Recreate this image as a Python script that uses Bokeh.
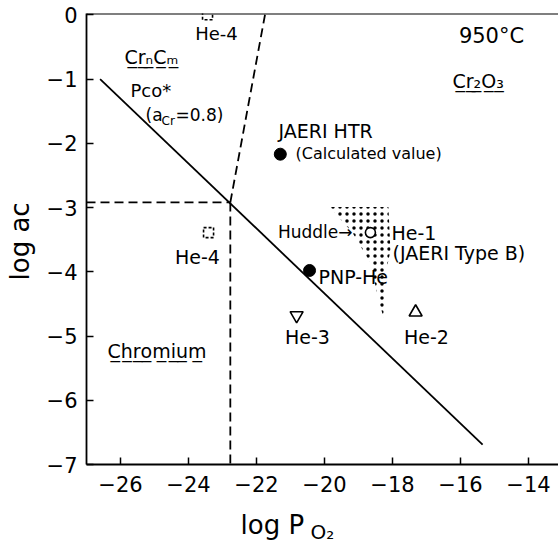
import math
from bokeh.plotting import figure
from bokeh.models import Label, Span, FixedTicker, Range1d
from bokeh.embed import file_html
from bokeh.resources import INLINE

# ---------------- data ----------------
x_ticks = [-26, -24, -22, -20, -18, -16, -14]
y_ticks = [0, -1, -2, -3, -4, -5, -6, -7]

# Cr / Cr2O3 / carbide equilibrium boundaries
oxide_line_x = [-26.6, -15.35]
oxide_line_y = [-1.0, -6.69]
carbide_h_x = [-27.0, -22.77]
carbide_h_y = [-2.92, -2.92]
chromium_v_x = [-22.77, -22.77]
chromium_v_y = [-2.92, -7.0]
carbide_oxide_x = [-22.77, -21.75]
carbide_oxide_y = [-2.92, 0.0]

# measured points
jaeri_htr_x = [-21.3]
jaeri_htr_y = [-2.17]
pnp_he_x = [-20.44]
pnp_he_y = [-3.98]
he1_x = [-18.65]
he1_y = [-3.39]
he2_x = [-17.32]
he2_y = [-4.63]
he3_x = [-20.82]
he3_y = [-4.68]
he4_x = [-23.44, -23.41]
he4_y = [0.0, -3.39]

# Huddle stippled region
huddle_x = [-19.85, -18.12, -18.06, -18.24, -18.26, -18.41, -18.65, -19.18]
huddle_y = [-2.99, -2.99, -3.67, -4.13, -4.72, -4.44, -3.86, -3.39]

# ---------------- layout constants ----------------
FONT = "DejaVu Sans"
W, H = 558, 548
X_START, PPX = -27.0, 34.0
Y_END, Y_START = 0.02, -7.0
FL, FT = 86, 13          # frame left/top in canvas pixels
FRAME_W, FRAME_H = W - FL, 452
PPY = FRAME_H / (Y_END - Y_START)


def at(px, py):
    return X_START + (px - FL) / PPX, Y_END - (py - FT) / PPY


p = figure(width=W, height=H, output_backend="svg", toolbar_location=None,
           x_range=Range1d(X_START, X_START + FRAME_W / PPX),
           y_range=Range1d(Y_START, Y_END),
           min_border_left=FL, min_border_top=FT,
           min_border_right=0, min_border_bottom=H - FT - FRAME_H)
p.outline_line_color = None
p.grid.visible = False
p.background_fill_color = "white"
p.border_fill_color = "white"

for ax in (p.xaxis, p.yaxis):
    ax.axis_line_width = 1.8
    ax.axis_line_color = "black"
    ax.major_tick_in = 7
    ax.major_tick_out = 0
    ax.major_tick_line_width = 1.5
    ax.minor_tick_line_color = None
    ax.major_label_text_font = FONT
    ax.major_label_text_font_size = "21px"
    ax.major_label_text_color = "black"

p.xaxis.ticker = FixedTicker(ticks=x_ticks)
p.yaxis.ticker = FixedTicker(ticks=y_ticks)
p.xaxis.major_label_overrides = {t: ("−%d" % -t if t < 0 else str(t)) for t in x_ticks}
p.yaxis.major_label_overrides = {t: ("−%d" % -t if t < 0 else str(t)) for t in y_ticks}
p.xaxis.major_label_standoff = 11
p.yaxis.major_label_standoff = 9

p.add_layout(Span(location=Y_END, dimension="width", line_color="black", line_width=1.8))

# boundaries
p.line(oxide_line_x, oxide_line_y, line_color="black", line_width=1.8)
for xs, ys in ((carbide_h_x, carbide_h_y), (chromium_v_x, chromium_v_y),
               (carbide_oxide_x, carbide_oxide_y)):
    p.line(xs, ys, line_color="black", line_width=1.8, line_dash="9 5")

# stippled region
p.patch(huddle_x, huddle_y, fill_color=None, line_color=None,
        hatch_pattern=".", hatch_color="black", hatch_scale=7, hatch_weight=0.6)

# points
p.scatter(jaeri_htr_x, jaeri_htr_y, marker="circle", size=12, color="black")
p.scatter(pnp_he_x, pnp_he_y, marker="circle", size=12, color="black")
p.scatter(he1_x, he1_y, marker="circle", size=10, fill_color="white",
          line_color="black", line_width=1.6)
p.scatter(he2_x, he2_y, marker="triangle", size=13, fill_color="white",
          line_color="black", line_width=1.6)
p.scatter(he3_x, he3_y, marker="inverted_triangle", size=13, fill_color="white",
          line_color="black", line_width=1.6)
p.scatter(he4_x, he4_y, marker="square", size=10, fill_color=None,
          line_color="black", line_width=1.6, line_dash="3 2")


def L(text, px, py, size, align="left"):
    x, y = at(px, py)
    p.add_layout(Label(x=x, y=y, text=text, text_font=FONT,
                       text_font_size="%dpx" % size, text_align=align,
                       text_baseline="middle", text_color="black"))


def LC(place, text, px, py, size, align="left", angle=0.0):
    p.add_layout(Label(x=px, y=py, x_units="canvas", y_units="canvas", text=text,
                       text_font=FONT, text_font_size="%dpx" % size,
                       text_align=align, text_baseline="middle", angle=angle,
                       text_color="black"), place)


U = "\u0332"
L("He-4", 216, 33, 18, "center")
L("C" + U + "r" + U + "ₙ" + U + "C" + U + "ₘ" + U, 124, 57, 19)
L("Pco*", 130, 90, 18)
L("(a", 145, 115, 17)
L("Cr", 161, 121, 12)
L("=0.8)", 175, 115, 17)
L("950°C", 491, 36, 21, "center")
L("C" + U + "r" + U + "₂" + U + "O" + U + "₃" + U, 452, 81, 19)
L("JAERI HTR", 278, 131, 19)
L("(Calculated value)", 295, 153, 16)
L("Huddle→", 352, 232, 17, "right")
L("He-1", 391, 233, 19)
L("(JAERI Type B)", 392, 253, 19)
L("PNP-He", 318, 277, 19)
L("He-3", 307, 337, 19, "center")
L("He-2", 426, 337, 19, "center")
L("He-4", 197, 257, 19, "center")
L("C" + U + "h" + U + "r" + U + "o" + U + "m" + U + "i" + U + "u" + U + "m" + U, 107, 351, 19)

# axis titles (canvas units, in side panels so they are not clipped)
LC("left", "log aᴄ", 19, 280, 26, "left", math.pi / 2)
LC("below", "log P", 240, 524, 26)
LC("below", "O₂", 310, 531, 20)

open("out.html", "w").write(file_html(p, INLINE))
